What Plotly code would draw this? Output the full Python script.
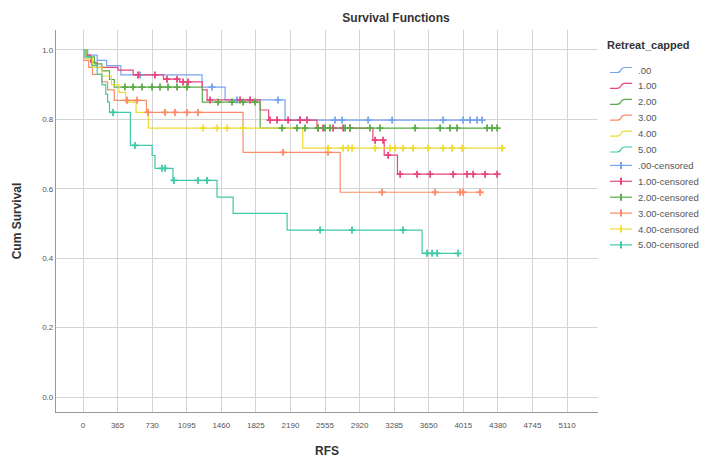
import plotly.graph_objects as go

# ---- data (days, cumulative survival) ----
groups = [".00", "1.00", "2.00", "3.00", "4.00", "5.00"]
colors = ["#76a4ee", "#e8467e", "#5cab4a", "#fa8c68", "#efdc35", "#40c9a8"]

t_00 = [50, 150, 250, 400, 1257, 1500, 2133]
s_00 = [0.985, 0.97, 0.955, 0.928, 0.893, 0.856, 0.798]
c_00 = [602, 1362, 1626, 2059, 2292, 2661, 2735, 3010, 3263, 3802, 4013, 4087, 4161, 4213]

t_01 = [30, 80, 150, 370, 530, 850, 1020, 1260, 1310, 1870, 1960, 2470, 3060, 3180, 3320]
s_01 = [0.985, 0.965, 0.95, 0.942, 0.928, 0.916, 0.908, 0.885, 0.856, 0.827, 0.798, 0.775, 0.74, 0.697, 0.642]
c_01 = [581, 760, 887, 993, 1056, 1109, 1341, 1658, 1764, 1975, 2049, 2165, 2292, 2365, 2482,
        2534, 2640, 2746, 2819, 3084, 3168, 3221, 3348, 3527, 3665, 3908, 4055, 4119, 4245, 4372]

t_02 = [40, 120, 200, 280, 330, 1260, 1870]
s_02 = [0.98, 0.96, 0.94, 0.915, 0.893, 0.85, 0.775]
c_02 = [443, 528, 623, 729, 813, 898, 993, 1098, 1426, 1573, 1690, 1816, 2101, 2260, 2344,
        2482, 2555, 2608, 2767, 2819, 3030, 3136, 3506, 3770, 3875, 3949, 4266, 4319, 4372]

t_03 = [10, 60, 100, 200, 260, 330, 670, 1690, 2715]
s_03 = [0.97, 0.95, 0.93, 0.908, 0.885, 0.855, 0.82, 0.705, 0.59]
c_03 = [465, 570, 686, 866, 971, 1098, 1214, 2112, 2587, 3157, 3717, 3981, 4013, 4192]

t_04 = [30, 100, 200, 300, 380, 450, 560, 690, 2320]
s_04 = [0.975, 0.95, 0.925, 0.90, 0.878, 0.85, 0.82, 0.775, 0.717]
c_04 = [1267, 1415, 1521, 1690, 2587, 2746, 2798, 2840, 3084, 3242, 3294, 3379, 3485, 3643,
        3802, 3897, 4002, 4424]

t_05 = [20, 90, 150, 200, 240, 260, 280, 500, 730, 760, 950, 1415, 1585, 2155, 3580]
s_05 = [0.98, 0.955, 0.93, 0.90, 0.873, 0.85, 0.82, 0.725, 0.696, 0.659, 0.624, 0.576, 0.529, 0.481, 0.414]
c_05 = [317, 549, 834, 866, 960, 1214, 1309, 2503, 2840, 3379, 3632, 3685, 3738, 3960]

times = [t_00, t_01, t_02, t_03, t_04, t_05]
survs = [s_00, s_01, s_02, s_03, s_04, s_05]
cens = [c_00, c_01, c_02, c_03, c_04, c_05]

x_ticks = [0, 365, 730, 1095, 1460, 1825, 2190, 2555, 2920, 3285, 3650, 4015, 4380, 4745, 5110]
y_ticks = [0.0, 0.2, 0.4, 0.6, 0.8, 1.0]
legend_title = "Retreat_capped"


def level_at(t, ts, ss):
    v = 1.0
    for ti, si in zip(ts, ss):
        if ti <= t:
            v = si
    return v


fig = go.Figure()

for g, col, ts, ss, cs in zip(groups, colors, times, survs, cens):
    end = max(ts[-1], max(cs))
    fig.add_trace(go.Scatter(
        x=[0] + ts + [end], y=[1.0] + ss + [ss[-1]],
        mode="lines", line=dict(color=col, width=1.2, shape="hv"),
        name=g, showlegend=False,
    ))

for g, col, ts, ss, cs in zip(groups, colors, times, survs, cens):
    fig.add_trace(go.Scatter(
        x=cs, y=[level_at(c, ts, ss) for c in cs], mode="markers",
        marker=dict(symbol="cross-thin", size=5, line=dict(color=col, width=1.8)),
        name=g + "-censored", showlegend=False,
    ))

# ---- plot area geometry (pixels) for the hand-built legend ----
W, H = 722, 464
L, R, T, B = 56, 124, 30, 52
pw, ph = W - L - R, H - T - B


def px(x):
    return (x - L) / pw


def py(y):
    return (H - B - y) / ph


shapes = []
annotations = []
annotations.append(dict(text="<b>" + legend_title + "</b>", xref="paper", yref="paper",
                        x=px(605), y=py(45), xanchor="left", yanchor="middle",
                        showarrow=False, font=dict(size=11, color="#333")))
entries = [(g, c, False) for g, c in zip(groups, colors)] + \
          [(g + "-censored", c, True) for g, c in zip(groups, colors)]
y0 = 70
step = 15.9
for i, (name, col, is_c) in enumerate(entries):
    yy = y0 + i * step
    if not is_c:
        path = (f"M {px(610)},{py(yy + 2.5)} L {px(617)},{py(yy + 2.5)} "
                f"Q {px(620)},{py(yy + 2.5)} {px(621)},{py(yy)} "
                f"Q {px(622)},{py(yy - 2.5)} {px(625)},{py(yy - 2.5)} "
                f"L {px(632)},{py(yy - 2.5)}")
        shapes.append(dict(type="path", path=path, xref="paper", yref="paper",
                           line=dict(color=col, width=1.2)))
    else:
        shapes.append(dict(type="line", xref="paper", yref="paper",
                           x0=px(610), x1=px(632), y0=py(yy), y1=py(yy),
                           line=dict(color=col, width=1.2)))
        shapes.append(dict(type="line", xref="paper", yref="paper",
                           x0=px(621), x1=px(621), y0=py(yy - 3.5), y1=py(yy + 3.5),
                           line=dict(color=col, width=2)))
    annotations.append(dict(text=name, xref="paper", yref="paper",
                            x=px(636), y=py(yy), xanchor="left", yanchor="middle",
                            showarrow=False, font=dict(size=9.5, color="#555")))

fig.update_layout(
    width=W, height=H,
    margin=dict(l=L, r=R, t=T, b=B),
    paper_bgcolor="white", plot_bgcolor="white",
    font=dict(family="Liberation Sans, Arial, sans-serif", color="#444"),
    title=dict(text="<b>Survival Functions</b>", x=396 / W, xanchor="center",
               y=1 - 18 / H, yanchor="middle", font=dict(size=12, color="#333")),
    showlegend=False,
    shapes=shapes,
    annotations=annotations,
)

fig.update_xaxes(
    range=[-285, 5437], tickvals=x_ticks, ticktext=[str(v) for v in x_ticks],
    showgrid=True, gridcolor="#d4d4d4", gridwidth=1, zeroline=False,
    showline=True, linecolor="#999", linewidth=1.2, automargin=False,
    tickfont=dict(size=8, color="#555"), ticklabelstandoff=5,
    title=dict(text="<b>RFS</b>", font=dict(size=12, color="#333"), standoff=17),
)
fig.update_yaxes(
    range=[-0.0432, 1.0576], tickvals=y_ticks, ticktext=[f"{v:.1f}" for v in y_ticks],
    showgrid=True, gridcolor="#d4d4d4", gridwidth=1, zeroline=False,
    showline=True, linecolor="#999", linewidth=1.2, automargin=False,
    tickfont=dict(size=8, color="#555"),
    title=dict(text="<b>Cum Survival</b>", font=dict(size=12, color="#333"), standoff=17),
)

fig.write_html("out.html")
